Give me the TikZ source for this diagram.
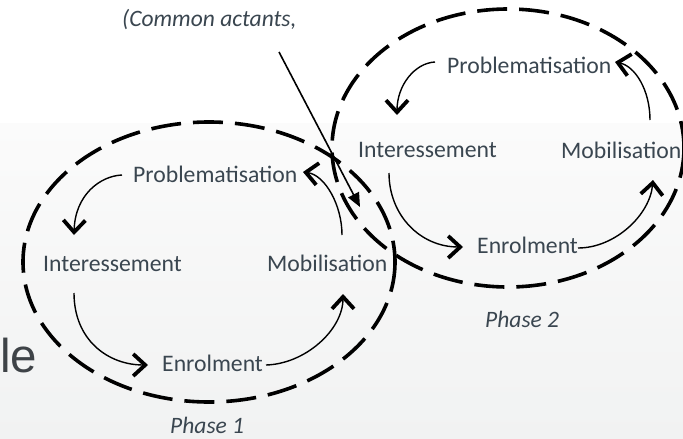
\documentclass[tikz,border=0pt]{standalone}
\usepackage{fontspec}
\setmainfont{Carlito}
\newfontfamily\arialf{Liberation Sans}
\usetikzlibrary{arrows.meta}
\definecolor{txt}{RGB}{58,70,80}
\definecolor{bgbot}{RGB}{241,242,242}
\definecolor{bgtop}{RGB}{251,251,251}
\definecolor{legray}{RGB}{62,67,71}
\begin{document}
\begin{tikzpicture}[x=1pt,y=-1pt,
  lbl/.style={anchor=base west, inner sep=0pt, text=txt, font=\fontsize{23.7}{28}\selectfont},
  ilbl/.style={anchor=base west, inner sep=0pt, text=txt, font=\fontsize{23.5}{28}\selectfont\itshape},
  phaseloop/.style={line width=3.6pt, dash pattern=on 30pt off 12pt},
  flowarrow/.style={line width=1.4pt, -{Straight Barb[length=12pt,width=22pt,line width=3.8pt]}},
  pointer/.style={line width=1.6pt, -{Triangle[length=14pt,width=12pt]}}
]
\useasboundingbox (0,0) rectangle (683,439);
% background
\fill[white] (0,0) rectangle (683,123);
\shade[top color=bgtop, bottom color=bgbot] (0,123) rectangle (683,439);

% partial title text
\node[anchor=base west, inner sep=0pt, text=legray, font=\arialf\fontsize{47.5}{50}\selectfont] (le) at (0,372) {le};

% dashed phase loops
\draw[phaseloop] (209,262) ellipse [x radius=186, y radius=140];
\draw[phaseloop] (508,148) ellipse [x radius=176, y radius=139];

% labels phase 1
\node[lbl] (p1) at (133,182) {Problematisation};
\node[lbl] (i1) at (43,271) {Interessement};
\node[lbl] (m1) at (267,271) {Mobilisation};
\node[lbl] (e1) at (162,371) {Enrolment};
\node[ilbl] (ph1) at (170,433) {Phase 1};

% labels phase 2
\node[lbl] (p2) at (447,73) {Problematisation};
\node[lbl] (i2) at (358,157) {Interessement};
\node[lbl] (m2) at (561,158) {Mobilisation};
\node[lbl] (e2) at (477,253) {Enrolment};
\node[ilbl] (ph2) at (485,327) {Phase 2};

\node[ilbl] (ca) at (122,27) {(Common actants,};

% connector end points
\coordinate (p1s) at (122,175);  \coordinate (i1t) at (74,235);
\coordinate (i1s) at (74,293);   \coordinate (e1t) at (148,365);
\coordinate (e1s) at (266,365);  \coordinate (m1t) at (343,294);
\coordinate (m1s) at (342,235);  \coordinate (p1t) at (303,172);
\coordinate (p2s) at (435,62);   \coordinate (i2t) at (397,115);
\coordinate (i2s) at (389,173);  \coordinate (e2t) at (463,247);
\coordinate (e2s) at (578,248);  \coordinate (m2t) at (653,180);
\coordinate (m2s) at (650,120);  \coordinate (p2t) at (615,62);
\coordinate (cas) at (279,52);   \coordinate (cat) at (360,207);

% phase 1 cycle
\draw[flowarrow] (p1s) .. controls (100,176) and (75,195) .. (i1t);
\draw[flowarrow] (i1s) .. controls (74,340) and (108,365) .. (e1t);
\draw[flowarrow] (e1s) .. controls (305,364) and (343,330) .. (m1t);
\draw[flowarrow] (m1s) .. controls (342,205) and (325,175) .. (p1t);

% phase 2 cycle
\draw[flowarrow] (p2s) .. controls (415,63) and (397,85) .. (i2t);
\draw[flowarrow] (i2s) .. controls (389,215) and (420,247) .. (e2t);
\draw[flowarrow] (e2s) .. controls (615,248) and (650,215) .. (m2t);
\draw[flowarrow] (m2s) .. controls (650,90) and (635,66) .. (p2t);

% common actants pointer
\draw[pointer] (cas) -- (cat);
\end{tikzpicture}
\end{document}
